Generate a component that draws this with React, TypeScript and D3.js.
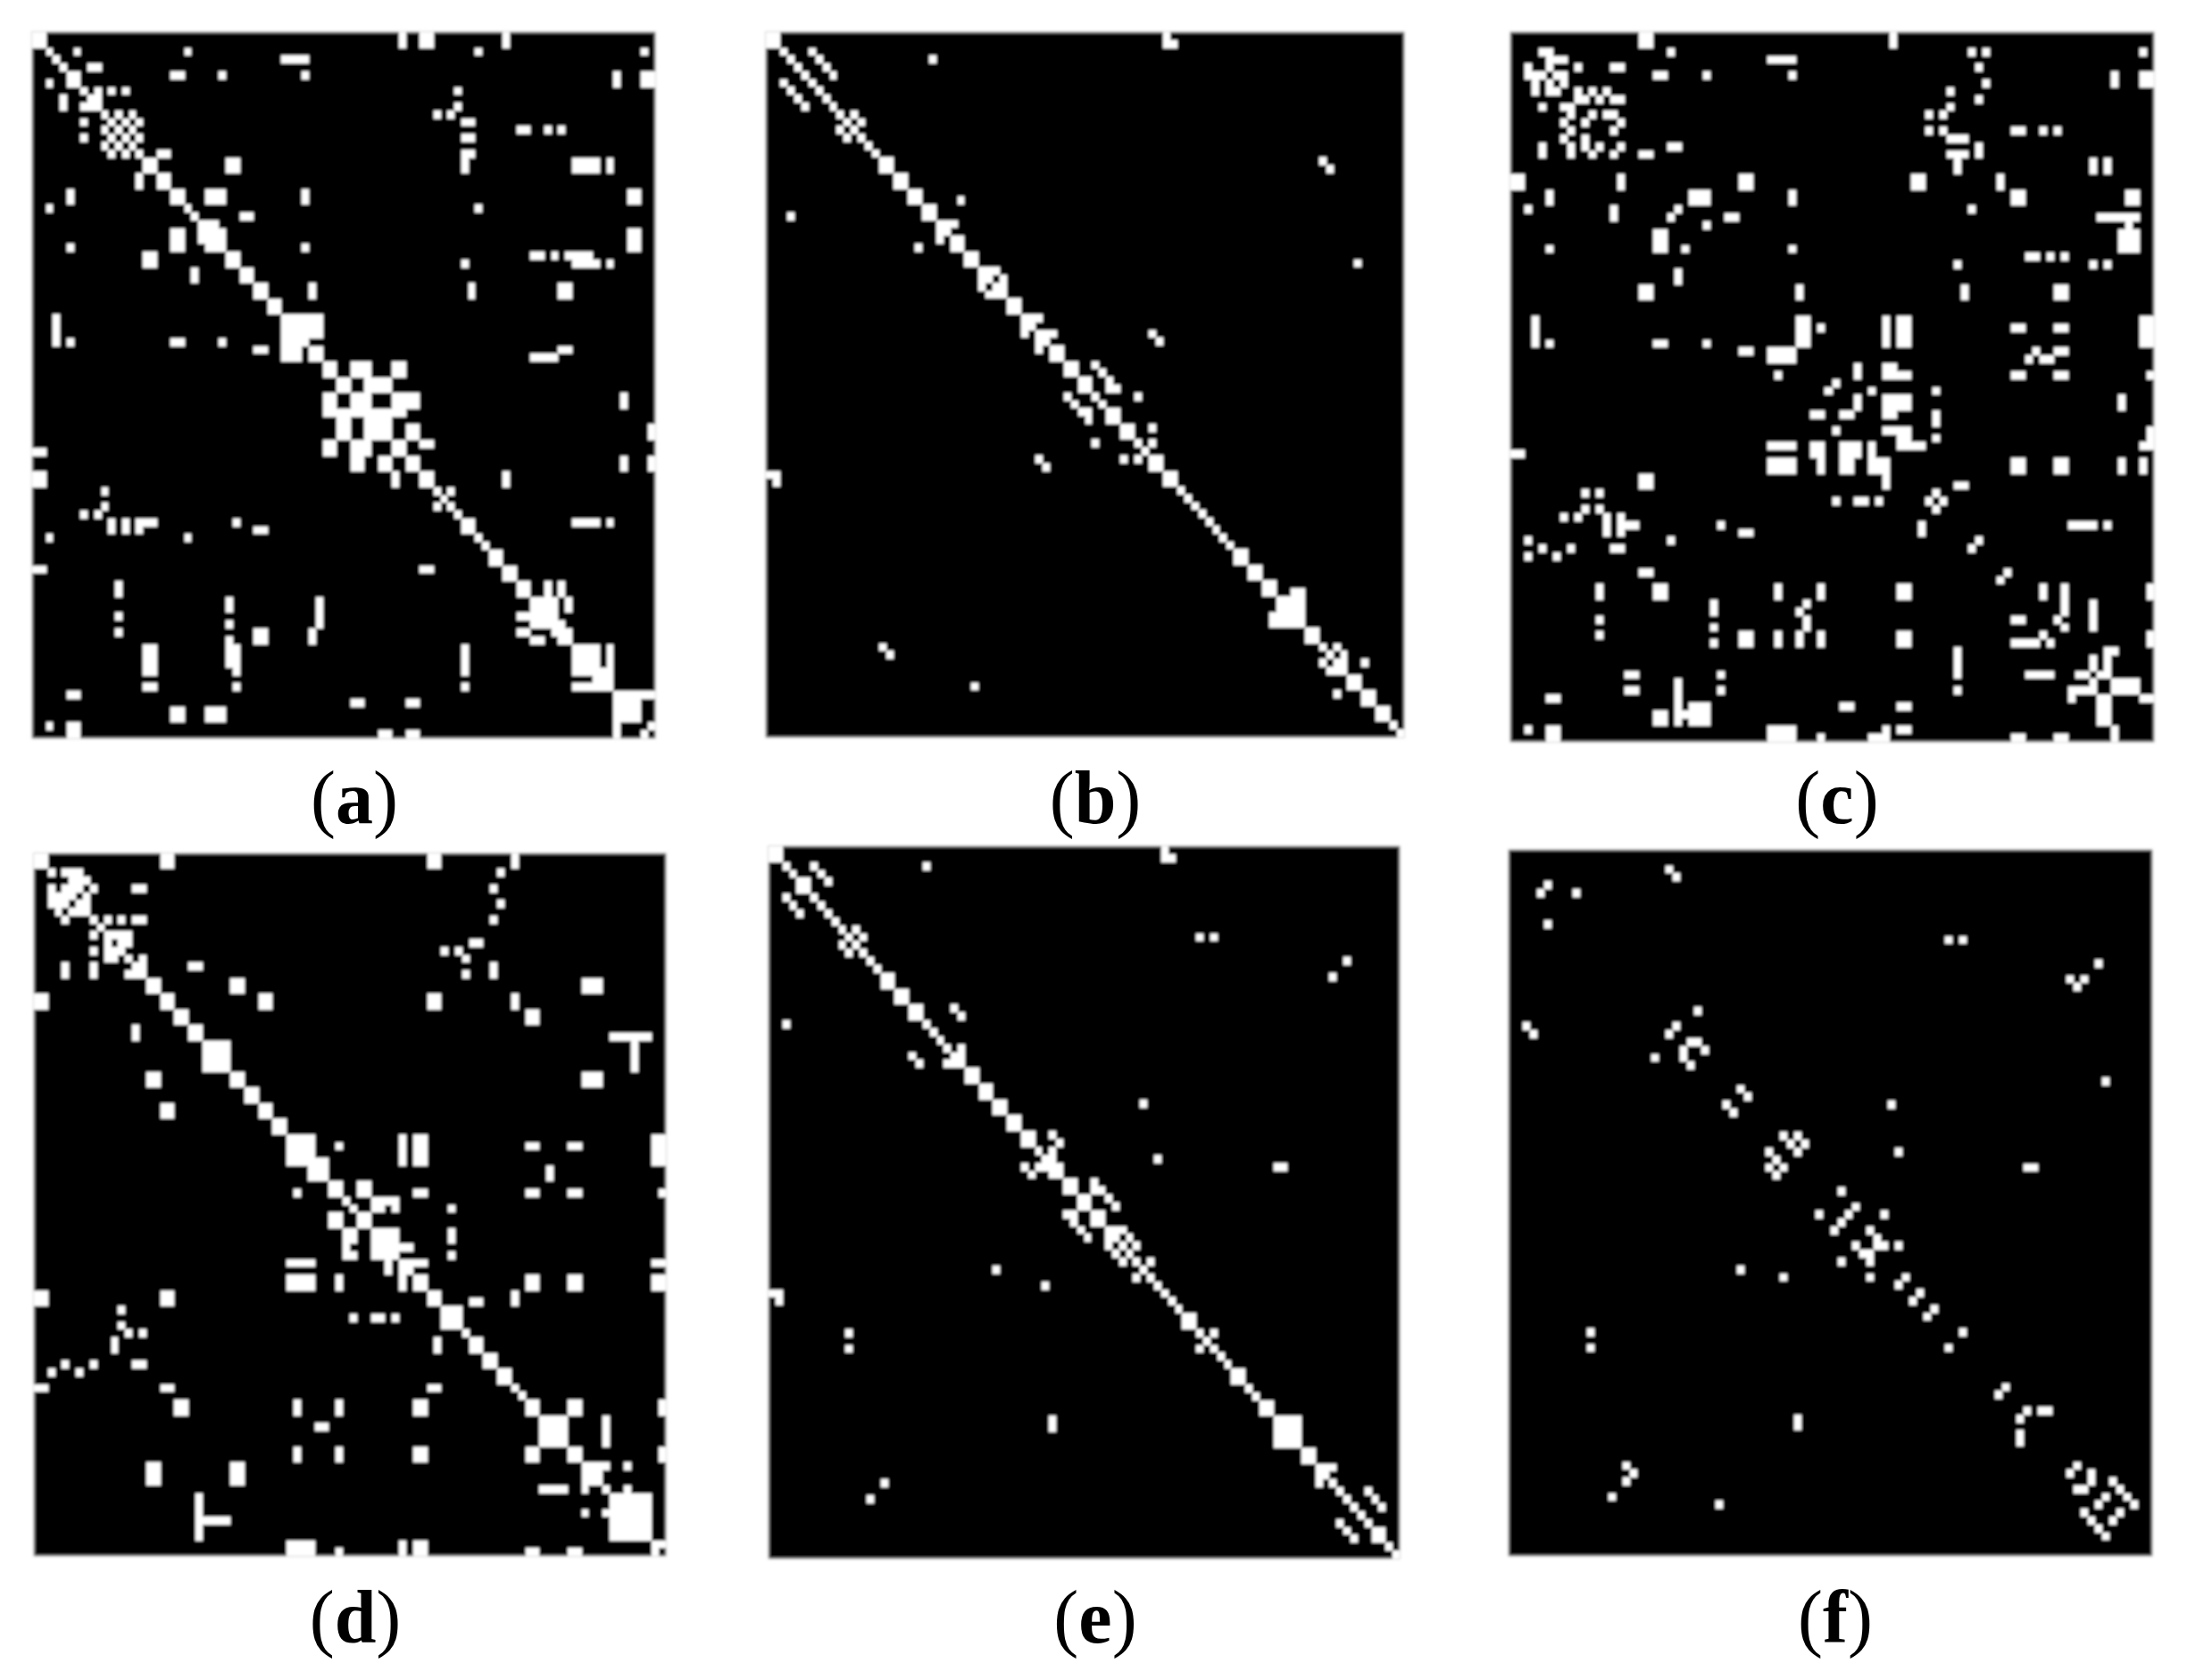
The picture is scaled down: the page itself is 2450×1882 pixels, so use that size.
import React from 'react';
import * as d3 from 'd3';

const width = 2450;
const height = 1882;
const nodes = d3.range(90);

// Each entry is "rows:cols" for the connected cells, "d" means the diagonal. Matrices are symmetric.
const matrixA = [
  "0-1:0-1 53 56-57 68", "2:2 6 22 64 88", "3:3 36-39", "4:4 8-9", "5-6:5-6 84 88-89", "5:20-21 27 39",
  "7:7 9 11 13 61", "8:8-9", "9:9 61", "10:10 12 14 58 60", "11:11 13 15 62-63", "12:12 14 70-71 74 76",
  "13:13 15 62-63", "14:14", "15:15 18-19 62-63", "15-17:62", "16-17:16-17 28-29 78-81 83", "18-19:18-19",
  "20-21:20-21 25-27 39 86-87", "22:22 64", "23:23 30-31", "24:24-26", "25:25-27", "26:26-27", "27:27 39",
  "25-27:86-87", "28:28-29 72-73 75 77-80", "29:28-29 62 78-81 83", "30-31:30-31", "32-33:32-33 40 63 76-77",
  "34-35:34-35", "36-38:36-41", "39:36-39", "40-41:36-38 40-41", "40:76-77", "41:72-75",
  "42-43:42-43 46-48 52-53", "44-45:44-45 48-51", "46-47:46-48 52-55 85", "48:48-53", "49-51:48-51",
  "50-51:54-55 89", "52-53:52-53", "52:56-57", "54-55:54-55 85 89", "56-57:56-57 68", "58:58 60", "59-61:d",
  "62-63:62-63", "62:78-81 83", "64-65:d", "66-67:66-67", "68-69:68-69", "70-71:70-71 74 76", "72-75:72-75",
  "72-73:77", "75:76", "76-77:76-77", "78-81:78-81 83", "81-83:81-83", "84-87:84-87", "84:88-89", "88:89",
];

const matrixB = [
  "0-1:0-1", "0:56", "1:56-57", "2:2 6", "3:3 7 23", "4:4 8", "5:5 9", "6-9:d", "10:10 12", "11:11 13", "12-15:d",
  "16-17:16-17", "16:78", "17:79", "18-19:18-19", "20-21:20-21", "21:27", "22-23:22-23", "24:24-26", "25:25",
  "26-27:26-27", "28-29:28-29", "29:83", "30:30-32", "31:31 33", "32:32-33", "33:33", "34-35:34-35", "36:36-38",
  "37:37", "38:38-40 54", "39:39 55", "40-41:40-41", "42-43:42-43", "42:46", "43:47", "44-45:44-45", "44:48",
  "45:48-49", "46:46 52", "47:47", "48-49:48-49", "50-51:50-51", "50:54", "52:52 54", "53:53", "54-55:54-55",
  "56-57:56-57", "58-65:d", "66-67:66-67", "68-69:68-69", "70-71:70-71", "71:74-75", "72-75:72-75", "76-77:76-77",
  "78:78 80", "79:79 81", "80:80-81 84", "81:81", "82-83:82-83", "84-85:84-85", "86-87:86-87", "88-89:d",
];

const matrixC = [
  "0-1:18-19 53", "2:4-5 22 64 66 88", "3:5-7 36-39", "4:5 9 14-15 65", "5:6-7 20-21 27 39", "5-6:84 88-89",
  "6:7 66", "7:9 11 13 61", "8:9-10 12 14-15 65", "9:61", "10:11 13-14 58 60", "11:15", "12:14 58 60 70-71 74 76",
  "13:61-63", "14:15 22-23 65", "15:18-19 61-63 65", "15-17:62", "16-17:81 83", "18-19:32-33 56-57 68",
  "20-21:25-27 39 70-71 86-87", "22:23 64", "23:30-31 82-87", "24:27 86", "25-27:85-87", "27:39",
  "28:72-73 75 77", "29:62 81 83", "32-33:40 63 76-77", "36-39:40-41 52 54-55 88-89", "37:43 70-71 76-77",
  "40:73 76-77", "41:72 74-75", "42:48 52-53", "43:48 52-55 70-71 76-77 89", "44:45", "45:50 59",
  "46-47:48 52-55 85", "48:52-53 59", "49:59", "50:52-55 89", "51:54-55 59 89", "52:54-57 88-89",
  "54-55:70-71 76-77 85 88", "57:62-63", "58:59", "59:60", "62:78-81 83", "64:65", "68:69", "70-71:74 89",
  "70-73:77", "72-75:81", "74:76", "75:77", "76-77:89", "78:83-84", "79-81:83", "79-80:81", "81:82", "82-83:84-87",
  "84:88-89",
];

const matrixD = [
  "0-1:0-1 18-19 56-57 68", "2:2 4-6 66", "3:5-7", "4:4-6 8 14-15 65", "5:5 7", "6:6-7 66", "7:7",
  "8:8 10 12 14-15 65", "9:9", "10:10-13", "11:12-13 62-63", "12:12 58 60", "13:13 15 61", "14:14-15 22-23 65",
  "15:15 61 65", "16-17:16-17 28-29 78-80", "18-19:18-19 32-33 56-57 68", "20-21:20-21 70-71", "22-23:22-23",
  "23:82-87", "24-27:24-27 85", "28-29:28-29 78-80", "30-31:30-31", "32-33:32-33", "34-35:34-35",
  "36-39:36-39 52 54-55 88-89", "37:43 70-71 76-77", "39-41:39-41", "40-41:73", "42-43:42-43 46-47",
  "43:54-55 70-71 76-77 89", "44:44 48-51", "45:45 48-49 51 59", "46-47:46-47", "48-51:48-51", "48-49:59", "51:59",
  "50:52-53", "52:52-55 88-89", "53:53", "54-55:54-55 70-71 76-77 88-89", "56-57:56-57 68", "57:62-63",
  "58-60:58-60", "61:61", "62-63:62-63", "64-65:64-65", "66-67:66-67", "68-69:d", "70-71:70-71 76-77 89",
  "72-75:72-75 81", "76-77:76-77 89", "78:78-81 84", "79:79-80", "80:80", "81:81 84", "82-87:82-87", "88:88-89",
];

const matrixE = [
  "0-1:0-1", "0:56", "1:56-57", "2:2 6 22", "3:3 7", "4-5:4-5", "4:8", "6-9:d", "10:10 12", "11:11 13 61 63",
  "12-13:d", "14:14 82", "15:15", "16:80", "16-17:16-17", "18-19:18-19", "20-21:20-21", "20:26", "21:27", "22-24:d",
  "25:25 27", "26:26-27", "27:27", "28-29:28-29", "30-31:30-31", "32-33:32-33", "32:53", "34-35:34-35",
  "36-37:36-37", "36:40", "37:41", "38:38 40", "39:39-40 55", "40:72-73", "40-41:40-41", "42-43:42-43", "42:46",
  "43:46-47", "44-45:44-45", "44:48", "45:49", "46-47:46-47", "48:48-50", "49:49 51", "50:50 52", "51:51",
  "52:52 54", "53:53", "54:54", "55-58:d", "59-60:59-60", "61:61 63", "62-65:d", "66-67:66-67", "68-69:d",
  "70-71:70-71", "72-75:72-75", "76-77:76-77", "78:78-80", "79:79", "80:80", "81:81 85", "82:82 86", "83:83 87",
  "84-85:d", "86-87:86-87", "88-89:d",
];

const matrixF = [
  "2:22", "3:23", "4:5", "5:9", "11:61 63", "14:82", "16:78 80", "17:79", "20:26", "22:23", "24:25-26", "25:27",
  "29:83", "30:32", "31:33", "32:53", "36:38 40", "37:39 41", "38:40 54", "40:72-73", "43:46", "45:48", "46:47 52",
  "48:50", "49:51", "50:51-52 54", "54:55", "56:57", "58:59", "61:63", "68:69", "71:72 74-75", "78:79", "79:81",
  "80:81 84", "81:85", "82:83 86", "83:87", "84:85",
];

const panels = [
  { label: 'a', matrix: matrixA, x: [36, 734], y: [36, 827], labelX: 397, labelY: 922 },
  { label: 'b', matrix: matrixB, x: [858, 1573], y: [36, 826], labelX: 1227, labelY: 922 },
  { label: 'c', matrix: matrixC, x: [1692, 2413], y: [36, 831], labelX: 2058, labelY: 922 },
  { label: 'd', matrix: matrixD, x: [38, 746], y: [956, 1743], labelX: 398, labelY: 1840 },
  { label: 'e', matrix: matrixE, x: [861, 1568], y: [948, 1746], labelX: 1227, labelY: 1840 },
  { label: 'f', matrix: matrixF, x: [1690, 2411], y: [952, 1743], labelX: 2056, labelY: 1840 },
];

function span(text: string) {
  const [a, b] = text.split('-').map(Number);
  return d3.range(a, (b ?? a) + 1);
}

// expand the "rows:cols" strings to a list of [row, col], mirrored over the diagonal
function cellsOf(matrix: string[]) {
  const seen = new Set<string>();
  const out: [number, number][] = [];
  const add = (r: number, c: number) => {
    if (seen.has(r + ',' + c)) return;
    seen.add(r + ',' + c);
    out.push([r, c]);
  };
  matrix.forEach((entry) => {
    const [rows, cols] = entry.split(':');
    span(rows).forEach((r) => {
      if (cols === 'd') {
        add(r, r);
        return;
      }
      cols.split(' ').forEach((part) => {
        span(part).forEach((c) => {
          add(r, c);
          add(c, r);
        });
      });
    });
  });
  return out;
}

function Panel({ panel }: { panel: (typeof panels)[number] }) {
  const x = d3.scaleBand<number>().domain(nodes).range(panel.x as [number, number]);
  const y = d3.scaleBand<number>().domain(nodes).range(panel.y as [number, number]);
  return (
    <g>
      <g filter="url(#soft)">
        <rect
          x={panel.x[0]}
          y={panel.y[0]}
          width={panel.x[1] - panel.x[0]}
          height={panel.y[1] - panel.y[0]}
          fill="#000"
          stroke="#bdbdbd"
          strokeWidth={1.5}
        />
        {cellsOf(panel.matrix).map(([r, c]) => (
          <rect
            key={r + '-' + c}
            x={x(c)}
            y={y(r)}
            width={x.bandwidth()}
            height={y.bandwidth()}
            fill="#fff"
            shapeRendering="crispEdges"
          />
        ))}
      </g>
      <text x={panel.labelX} y={panel.labelY} textAnchor="middle" fontFamily="'Liberation Serif', serif" fontSize={84} fill="#000">
        (<tspan fontWeight="bold">{panel.label}</tspan>)
      </text>
    </g>
  );
}

export default function App() {
  return (
    <svg width={width} height={height} style={{ position: 'absolute', left: 0, top: 0, background: '#fff' }}>
      <defs>
        <filter id="soft" x="-2%" y="-2%" width="104%" height="104%">
          <feGaussianBlur stdDeviation={1.7} />
        </filter>
      </defs>
      {panels.map((p) => (
        <Panel key={p.label} panel={p} />
      ))}
    </svg>
  );
}
